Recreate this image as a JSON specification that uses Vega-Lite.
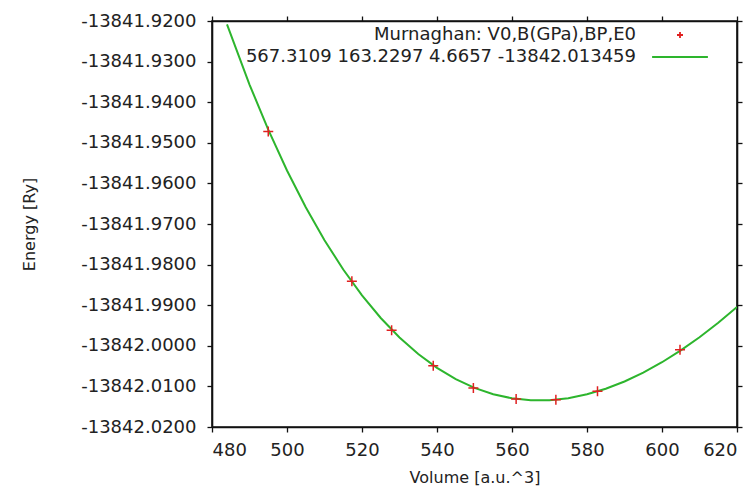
{
  "$schema": "https://vega.github.io/schema/vega-lite/v6.json",
  "width": 525,
  "height": 406,
  "autosize": "none",
  "padding": {"left": 212, "top": 21, "right": 17, "bottom": 61},
  "background": "white",
  "config": {
    "font": "DejaVu Sans",
    "view": {"stroke": "#111111", "strokeWidth": 1.6},
    "axis": {
      "grid": false,
      "domain": true,
      "domainColor": "#111111",
      "domainWidth": 1.6,
      "labelFont": "DejaVu Sans",
      "labelFontSize": 18,
      "labelColor": "#222222",
      "titleFont": "DejaVu Sans",
      "titleFontSize": 16,
      "titleFontWeight": "normal",
      "titleColor": "#222222",
      "ticks": true,
      "tickColor": "#111111",
      "tickWidth": 1.3,
      "tickSize": 5
    }
  },
  "datasets": {
    "fit": [
      {"V": 484, "E": -13841.920839},
      {"V": 490, "E": -13841.935661},
      {"V": 495, "E": -13841.946778},
      {"V": 500, "E": -13841.956831},
      {"V": 505, "E": -13841.965885},
      {"V": 510, "E": -13841.973995},
      {"V": 515, "E": -13841.981208},
      {"V": 520, "E": -13841.987577},
      {"V": 525, "E": -13841.993145},
      {"V": 530, "E": -13841.997954},
      {"V": 535, "E": -13842.002042},
      {"V": 540, "E": -13842.005447},
      {"V": 545, "E": -13842.008208},
      {"V": 550, "E": -13842.010358},
      {"V": 555, "E": -13842.011918},
      {"V": 560, "E": -13842.012929},
      {"V": 565, "E": -13842.013412},
      {"V": 570, "E": -13842.013393},
      {"V": 575, "E": -13842.0129},
      {"V": 580, "E": -13842.011954},
      {"V": 585, "E": -13842.010574},
      {"V": 590, "E": -13842.008786},
      {"V": 595, "E": -13842.006602},
      {"V": 600, "E": -13842.004051},
      {"V": 605, "E": -13842.00114},
      {"V": 610, "E": -13841.997889},
      {"V": 615, "E": -13841.994314},
      {"V": 620, "E": -13841.99043}
    ],
    "points": [
      {"V": 495.0, "E": -13841.9472, "series": "Murnaghan: V0,B(GPa),BP,E0"},
      {"V": 517.3, "E": -13841.9841, "series": "Murnaghan: V0,B(GPa),BP,E0"},
      {"V": 527.9, "E": -13841.9962, "series": "Murnaghan: V0,B(GPa),BP,E0"},
      {"V": 539.0, "E": -13842.0049, "series": "Murnaghan: V0,B(GPa),BP,E0"},
      {"V": 549.7, "E": -13842.0104, "series": "Murnaghan: V0,B(GPa),BP,E0"},
      {"V": 561.1, "E": -13842.0131, "series": "Murnaghan: V0,B(GPa),BP,E0"},
      {"V": 571.7, "E": -13842.0133, "series": "Murnaghan: V0,B(GPa),BP,E0"},
      {"V": 582.8, "E": -13842.0112, "series": "Murnaghan: V0,B(GPa),BP,E0"},
      {"V": 604.8, "E": -13842.001, "series": "Murnaghan: V0,B(GPa),BP,E0"}
    ]
  },
  "layer": [
    {
      "data": {"name": "fit"},
      "mark": {"type": "line", "color": "#2db52d", "strokeWidth": 2, "clip": true},
      "encoding": {
        "x": {
          "field": "V", "type": "quantitative",
          "scale": {"domain": [480, 620], "nice": false, "zero": false},
          "axis": {"orient": "top", "labels": false, "title": null, "values": [480, 500, 520, 540, 560, 580, 600, 620]}
        },
        "y": {
          "field": "E", "type": "quantitative",
          "scale": {"domain": [-13842.02, -13841.92], "nice": false, "zero": false},
          "axis": {"orient": "right", "labels": false, "title": null,
                   "values": [-13842.02, -13842.01, -13842.0, -13841.99, -13841.98, -13841.97, -13841.96, -13841.95, -13841.94, -13841.93, -13841.92]}
        }
      }
    },
    {
      "data": {"name": "points"},
      "mark": {"type": "point", "filled": false, "strokeWidth": 1.5, "size": 100, "opacity": 1},
      "encoding": {
        "x": {
          "field": "V", "type": "quantitative",
          "axis": {"orient": "bottom", "title": "Volume [a.u.^3]", "labelPadding": 9, "titlePadding": 10,
                   "values": [480, 500, 520, 540, 560, 580, 600, 620]}
        },
        "y": {
          "field": "E", "type": "quantitative",
          "axis": {"orient": "left", "title": "Energy [Ry]", "labelExpr": "replace(format(datum.value, '.4f'), '\u2212', '-')", "labelPadding": 11, "titlePadding": 43,
                   "values": [-13842.02, -13842.01, -13842.0, -13841.99, -13841.98, -13841.97, -13841.96, -13841.95, -13841.94, -13841.93, -13841.92]}
        },
        "color": {
          "field": "series", "type": "nominal",
          "scale": {"domain": ["Murnaghan: V0,B(GPa),BP,E0", "567.3109 163.2297 4.6657 -13842.013459"], "range": ["#e02020", "#2db52d"]},
          "legend": {"title": null, "orient": "none", "legendX": 459, "legendY": 5, "labelAlign": "right", "labelOffset": -53,
                     "labelLimit": 600, "labelFontSize": 18, "labelColor": "#222222", "symbolSize": 36, "symbolStrokeWidth": 1.8, "rowPadding": 4}
        },
        "shape": {
          "field": "series", "type": "nominal",
          "scale": {"domain": ["Murnaghan: V0,B(GPa),BP,E0", "567.3109 163.2297 4.6657 -13842.013459"], "range": ["M-1,0H1M0,-1V1", "M-9.3,0H9.3"]},
          "legend": {"title": null, "orient": "none", "legendX": 459, "legendY": 5, "labelAlign": "right", "labelOffset": -53,
                     "labelLimit": 600, "labelFontSize": 18, "labelColor": "#222222", "symbolSize": 36, "symbolStrokeWidth": 1.8, "rowPadding": 4}
        }
      }
    }
  ],
  "resolve": {"axis": {"x": "independent", "y": "independent"}}
}
